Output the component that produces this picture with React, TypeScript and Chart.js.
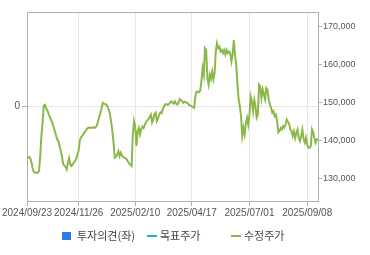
import React, { useEffect, useRef } from "react";
import { Chart, registerables } from "chart.js";

Chart.register(...registerables);

const dateLabels = ["2024/09/23", "2024/11/26", "2025/02/10", "2025/04/17", "2025/07/01", "2025/09/08"];
const dateIndex = [0, 43, 90, 137, 185, 233];
const lastIndex = 242;

const priceTicks = [130000, 140000, 150000, 160000, 170000];
const opinionTicks = [0];
const legendLabels = ["투자의견(좌)", "목표주가", "수정주가"];

// 수정주가 (adjusted price), one value per trading day
const prices = [
  135400, 135600, 135800, 135300, 134000, 132300, 131800, 131600, 131700, 131600,
  132100, 136000, 141500, 145000, 149300, 149500, 148500, 148000, 147000, 146300,
  145500, 144800, 143800, 142800, 141600, 140500, 140000, 138900, 137500, 136000,
  134000, 133500, 133200, 132500, 134300, 135500, 133800, 133400, 133900, 134300,
  134700, 135300, 136500, 137600, 140200, 141000, 141300, 141900, 142300, 142800,
  143200, 143500, 143400, 143500, 143400, 143600, 143400, 143600, 144000, 145000,
  146300, 147200, 148600, 150000, 149800, 149700, 149500, 149000, 148200, 147000,
  145000, 142600, 139500, 135600, 135800, 136400, 137300, 136000, 136900, 136100,
  135800, 135600, 135400, 135100, 134500, 134000, 133700, 133400, 141700, 145200,
  143800, 138700, 142500, 143400, 141700, 143200, 143800, 143400, 144200, 145000,
  145400, 145700, 146300, 146900, 144800, 145700, 147000, 147400, 145200, 145900,
  147000, 147500, 147300, 148400, 149100, 149600, 149700, 149500, 149700, 150000,
  150400, 150100, 149800, 150400, 149900, 149600, 150000, 151000, 150700, 150400,
  150000, 150300, 150200, 150000, 149800, 149400, 149200, 149100, 148900, 148700,
  151700, 153000, 152900, 152800, 153200, 155500, 159100, 157400, 164400, 163900,
  156500, 154800, 157400, 156300, 158200, 156200, 157800, 163500, 165700, 164400,
  164800, 163500, 163900, 163100, 163900, 162700, 163900, 163100, 163500, 163000,
  160900, 162700, 166500, 162600, 160000, 155000, 150900, 149100, 146500, 141300,
  143400, 141700, 144700, 146100, 144300, 146900, 151700, 150400, 147800, 150800,
  149100, 146100, 146900, 154800, 154300, 151300, 153500, 152200, 150900, 153900,
  153400, 150900, 149500, 148700, 147400, 147800, 146500, 146900, 145200, 142200,
  142600, 143400, 143000, 143900, 143500, 144300, 145600, 145000, 144500, 143000,
  142600, 141300, 142500, 140800, 142100, 143000, 140800, 140000, 141300, 143000,
  140400, 139500, 140800, 139100, 138200, 138200, 138600, 143000, 142200, 140800,
  139500, 140400, 140300,
];

const FONT = "'Liberation Sans', 'Noto Sans CJK KR', sans-serif";
const LEGEND_FONT = "'Noto Sans CJK KR', 'Liberation Sans', sans-serif";
const BORDER = "#b0b0b0";
const GRID = "#e6e6e6";
const TEXT = "#555555";
const GREEN = "#8cb84a";
const BLUE = "#2b7de1";
const CYAN = "#1fb5c9";

const framePlugin = {
  id: "frameAndLegend",
  afterDraw(chart: any) {
    const { ctx, chartArea } = chart;
    ctx.save();
    ctx.strokeStyle = BORDER;
    ctx.lineWidth = 1;
    ctx.beginPath();
    ctx.moveTo(chartArea.left, Math.round(chartArea.top) + 0.5);
    ctx.lineTo(chartArea.right, Math.round(chartArea.top) + 0.5);
    ctx.stroke();

    // legend
    const y = 236;
    ctx.font = "11px " + LEGEND_FONT;
    ctx.textBaseline = "middle";
    ctx.textAlign = "left";
    ctx.fillStyle = BLUE;
    ctx.fillRect(62, 232, 9, 8);
    ctx.fillStyle = "#444";
    ctx.fillText(legendLabels[0], 77, y);

    ctx.strokeStyle = CYAN;
    ctx.lineWidth = 2;
    ctx.beginPath();
    ctx.moveTo(147, y);
    ctx.lineTo(157, y);
    ctx.stroke();
    ctx.fillStyle = "#444";
    ctx.fillText(legendLabels[1], 160, y);

    ctx.strokeStyle = GREEN;
    ctx.beginPath();
    ctx.moveTo(231, y);
    ctx.lineTo(241, y);
    ctx.stroke();
    ctx.fillStyle = "#444";
    ctx.fillText(legendLabels[2], 244, y);
    ctx.restore();
  },
};

export default function App() {
  const ref = useRef<HTMLCanvasElement>(null);
  useEffect(() => {
    document.body.style.margin = "0";
    const canvas = ref.current;
    if (!canvas) return;
    const chart = new Chart(canvas, {
      type: "line",
      data: {
        datasets: [
          { label: legendLabels[0], data: [], borderColor: BLUE, backgroundColor: BLUE, yAxisID: "yL" },
          { label: legendLabels[1], data: [], borderColor: CYAN, yAxisID: "y" },
          {
            label: legendLabels[2],
            data: prices.map((p, i) => ({ x: i, y: p })),
            borderColor: GREEN,
            borderWidth: 2,
            pointRadius: 0,
            tension: 0,
            yAxisID: "y",
          },
        ],
      },
      options: {
        animation: false,
        responsive: false,
        layout: { padding: { top: 12, left: 0, right: 0, bottom: 34 } },
        plugins: { legend: { display: false }, tooltip: { enabled: false } },
        scales: {
          x: {
            type: "linear",
            min: 0,
            max: lastIndex,
            afterBuildTicks: (axis: any) => {
              axis.ticks = dateIndex.map((v) => ({ value: v }));
            },
            afterFit: (axis: any) => {
              axis.height = 20;
            },
            ticks: {
              autoSkip: false,
              maxRotation: 0,
              padding: 1,
              color: TEXT,
              font: { size: 10, family: FONT },
              callback: (_v: any, i: number) => dateLabels[i] ?? "",
            },
            grid: { color: GRID, tickLength: 5, tickColor: BORDER },
            border: { color: BORDER },
          },
          yL: {
            type: "linear",
            position: "left",
            min: -1,
            max: 1,
            afterBuildTicks: (axis: any) => {
              axis.ticks = opinionTicks.map((v) => ({ value: v }));
            },
            afterFit: (axis: any) => {
              axis.width = 27;
            },
            ticks: {
              padding: 2,
              color: TEXT,
              font: { size: 10, family: FONT },
              callback: (v: any) => String(v),
            },
            grid: { color: GRID, tickLength: 5, tickColor: BORDER },
            border: { color: BORDER },
          },
          y: {
            type: "linear",
            position: "right",
            min: 124200,
            max: 173900,
            afterBuildTicks: (axis: any) => {
              axis.ticks = priceTicks.map((v) => ({ value: v }));
            },
            afterFit: (axis: any) => {
              axis.width = 52;
            },
            ticks: {
              padding: 1,
              color: TEXT,
              font: { size: 9, family: FONT },
              callback: (v: any) => Number(v).toLocaleString("en-US"),
            },
            grid: { drawOnChartArea: false, tickLength: 4, tickColor: BORDER },
            border: { color: BORDER },
          },
        },
      },
      plugins: [framePlugin],
    } as any);
    return () => chart.destroy();
  }, []);
  return (
    <div style={{ width: 370, height: 255 }}>
      <canvas ref={ref} width={370} height={255} style={{ width: 370, height: 255, display: "block" }} />
    </div>
  );
}
